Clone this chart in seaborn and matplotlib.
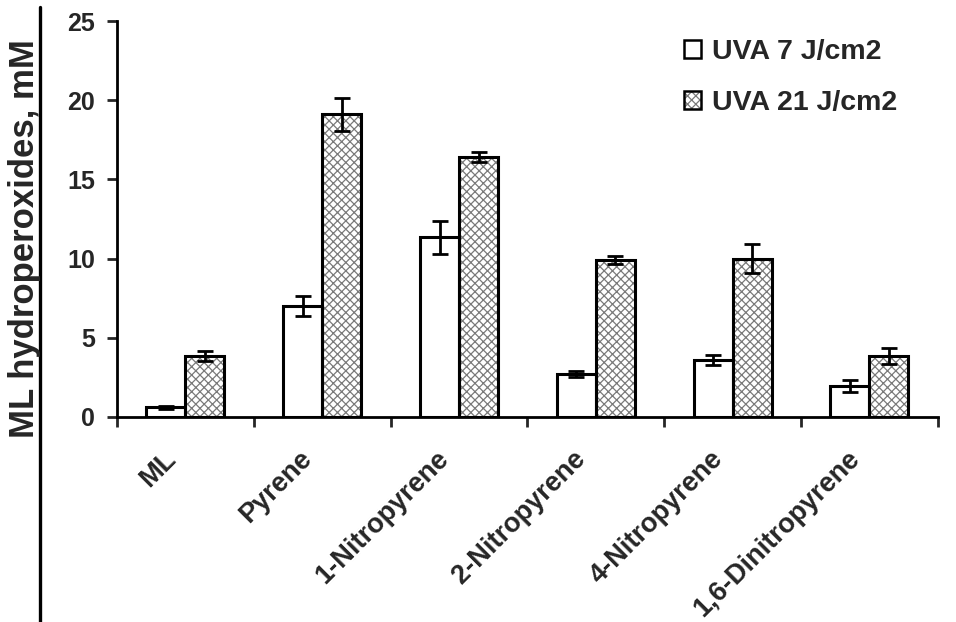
import numpy as np
import pandas as pd
import matplotlib
matplotlib.use("Agg")
import matplotlib.pyplot as plt
from matplotlib.patches import Rectangle, Patch
from matplotlib.lines import Line2D
from matplotlib.legend_handler import HandlerTuple
from matplotlib.transforms import ScaledTranslation
import seaborn as sns

categories = ["ML", "Pyrene", "1-Nitropyrene", "2-Nitropyrene", "4-Nitropyrene", "1,6-Dinitropyrene"]
series_names = ["UVA 7 J/cm2", "UVA 21 J/cm2"]
uva7 = [0.6, 7.0, 11.35, 2.7, 3.6, 1.95]
uva7_err = [0.1, 0.65, 1.05, 0.2, 0.3, 0.4]
uva21 = [3.85, 19.1, 16.4, 9.9, 10.0, 3.85]
uva21_err = [0.3, 1.05, 0.3, 0.25, 0.9, 0.5]
y_ticks = [0, 5, 10, 15, 20, 25]

sns.set_style("white")
plt.rcParams["font.family"] = ["Liberation Sans", "DejaVu Sans"]
plt.rcParams["font.weight"] = "bold"
plt.rcParams["hatch.linewidth"] = 0.9

df = pd.DataFrame({
    "category": categories * 2,
    "dose": [series_names[0]] * len(categories) + [series_names[1]] * len(categories),
    "value": uva7 + uva21,
})
errs = uva7_err + uva21_err

fig = plt.figure(figsize=(9.56, 6.22), dpi=100)
ax = fig.add_axes([0.1224, 0.3296, 0.8586, 0.6366])

sns.barplot(data=df, x="category", y="value", hue="dose", order=categories,
            hue_order=series_names, palette=["white", "white"], errorbar=None,
            width=0.57, gap=0.0, legend=False, ax=ax, zorder=2)

bars = [p for p in ax.patches if isinstance(p, Rectangle)]
hatch_gray = "#7a7a7a"
hatch = "xxxx"
for i, p in enumerate(bars):
    p.set_linewidth(0)
    if i >= len(categories):
        p.set_edgecolor(hatch_gray)
        p.set_hatch(hatch)
    else:
        p.set_edgecolor("white")
    # crisp black outline over each bar
    ax.add_patch(Rectangle((p.get_x(), p.get_y()), p.get_width(), p.get_height(),
                           fill=False, edgecolor="black", linewidth=2.2, zorder=3))
    cx = p.get_x() + p.get_width() / 2
    ax.errorbar(cx, p.get_height(), yerr=errs[i], fmt="none", ecolor="black",
                elinewidth=2.0, capsize=6, capthick=2.0, zorder=4)

ax.set_xlim(-0.5, len(categories) - 0.5)
ax.set_ylim(0, 25)
ax.set_yticks(y_ticks)
ax.set_yticklabels([str(t) for t in y_ticks], fontsize=18, fontweight="bold")

# category names, slanted below the axis, centred per category slot
ax.set_xticks(range(len(categories)))
ax.set_xticklabels([])
label_tf = ax.get_xaxis_transform() + ScaledTranslation(-0.23, -0.29, fig.dpi_scale_trans)
for i, name in enumerate(categories):
    ax.text(i, 0, name, transform=label_tf, rotation=45, ha="right", va="top",
            rotation_mode="anchor", fontsize=19.5, fontweight="bold", clip_on=False)

ax.set_xticks(np.arange(-0.5, len(categories)), minor=True)
ax.tick_params(axis="x", which="major", bottom=False, length=0)
ax.tick_params(axis="x", which="minor", bottom=True, length=7, width=2.0, direction="out")
ax.tick_params(axis="y", left=True, length=7, width=2.0, direction="out", pad=9)
ax.set_xlabel("")
ax.set_ylabel("")
for s in ["top", "right"]:
    ax.spines[s].set_visible(False)
for s in ["left", "bottom"]:
    ax.spines[s].set_linewidth(2.0)
    ax.spines[s].set_color("black")

# legend: hatch drawn in gray, outline in black
h7 = Patch(facecolor="white", edgecolor="black", linewidth=1.8)
h21 = (Patch(facecolor="white", edgecolor=hatch_gray, hatch=hatch, linewidth=0),
       Patch(facecolor="none", edgecolor="black", linewidth=1.8))
ax.legend([h7, h21], series_names, handler_map={tuple: HandlerTuple(ndivide=1)},
          loc="upper left", bbox_to_anchor=(0.6906, 0.955), frameon=False,
          prop={"size": 20.5, "weight": "bold"}, handlelength=0.6, handleheight=0.6,
          handletextpad=0.39, labelspacing=0.9, borderaxespad=0.0, borderpad=0.0)

fig.text(41 / 956, 0.617, "ML hydroperoxides, mM", rotation=90, ha="right", va="center",
         fontsize=25, fontweight="bold")
fig.add_artist(Line2D([0.042, 0.042], [0.0, 0.988], transform=fig.transFigure,
                      color="black", linewidth=2.4))

fig.savefig("out.png", dpi=100)
